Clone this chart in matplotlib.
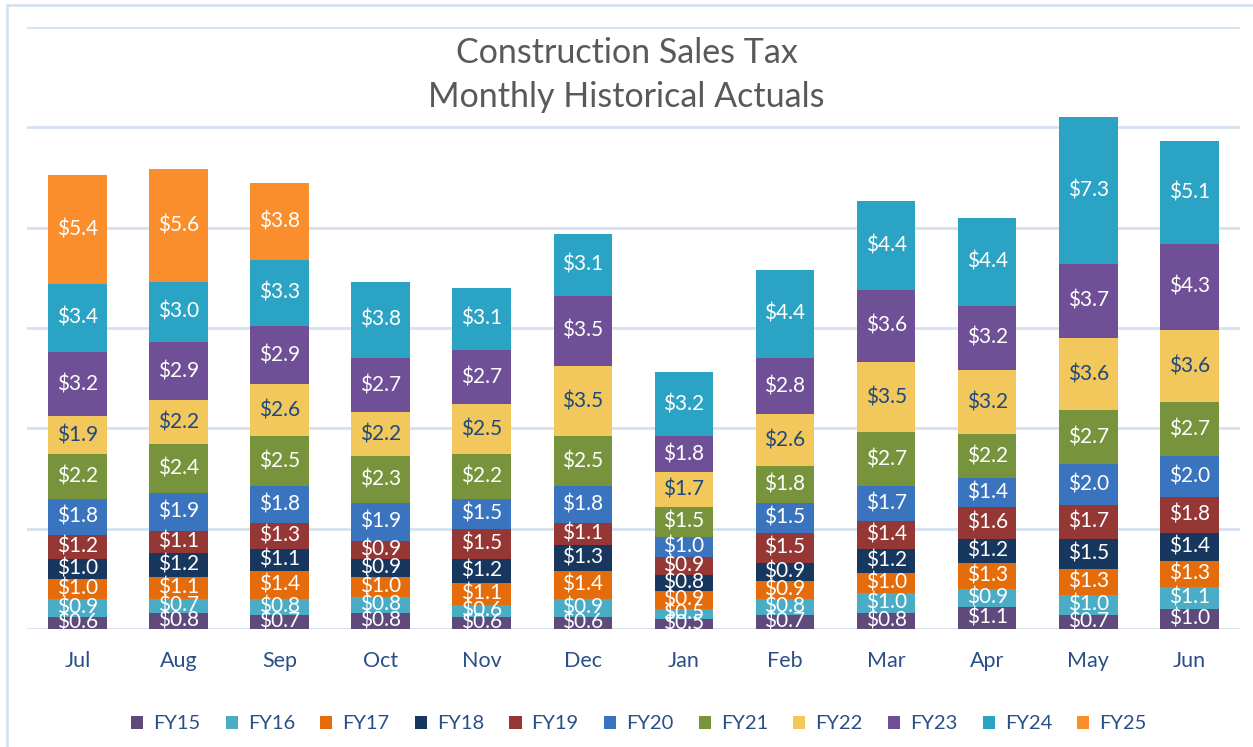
import numpy as np
import matplotlib.pyplot as plt
from matplotlib.patches import Rectangle

plt.rcParams['font.family'] = ['Lato', 'DejaVu Sans']

# Meses y años fiscales
months = ['Jul', 'Aug', 'Sep', 'Oct', 'Nov', 'Dec', 'Jan', 'Feb', 'Mar', 'Apr', 'May', 'Jun']
years = ['FY15', 'FY16', 'FY17', 'FY18', 'FY19', 'FY20', 'FY21', 'FY22', 'FY23', 'FY24', 'FY25']

# Valores por año fiscal (millones $), en orden de meses
fy15 = [0.6, 0.8, 0.7, 0.8, 0.6, 0.6, 0.5, 0.7, 0.8, 1.1, 0.7, 1.0]
fy16 = [0.9, 0.7, 0.8, 0.8, 0.6, 0.9, 0.5, 0.8, 1.0, 0.9, 1.0, 1.1]
fy17 = [1.0, 1.1, 1.4, 1.0, 1.1, 1.4, 0.9, 0.9, 1.0, 1.3, 1.3, 1.3]
fy18 = [1.0, 1.2, 1.1, 0.9, 1.2, 1.3, 0.8, 0.9, 1.2, 1.2, 1.5, 1.4]
fy19 = [1.2, 1.1, 1.3, 0.9, 1.5, 1.1, 0.9, 1.5, 1.4, 1.6, 1.7, 1.8]
fy20 = [1.8, 1.9, 1.8, 1.9, 1.5, 1.8, 1.0, 1.5, 1.7, 1.4, 2.0, 2.0]
fy21 = [2.2, 2.4, 2.5, 2.3, 2.2, 2.5, 1.5, 1.8, 2.7, 2.2, 2.7, 2.7]
fy22 = [1.9, 2.2, 2.6, 2.2, 2.5, 3.5, 1.7, 2.6, 3.5, 3.2, 3.6, 3.6]
fy23 = [3.2, 2.9, 2.9, 2.7, 2.7, 3.5, 1.8, 2.8, 3.6, 3.2, 3.7, 4.3]
fy24 = [3.4, 3.0, 3.3, 3.8, 3.1, 3.1, 3.2, 4.4, 4.4, 4.4, 7.3, 5.1]
fy25 = [5.4, 5.6, 3.8, 0, 0, 0, 0, 0, 0, 0, 0, 0]

series = [fy15, fy16, fy17, fy18, fy19, fy20, fy21, fy22, fy23, fy24, fy25]
colors = ['#604A7B', '#4BACC6', '#E46C0A', '#17375E', '#953735', '#3A73BE',
          '#77933C', '#F2C75C', '#6F4F96', '#2BA3C4', '#FA8E2C']
label_colors = ['white'] * 7 + ['#1F497D'] + ['white'] * 3

fig = plt.figure(figsize=(12.53, 7.47), dpi=100)
ax = fig.add_axes([0.0215, 0.158, 0.968, 0.806])

x = np.arange(len(months))
bottom = np.zeros(len(months))
for vals, c, lc, name in zip(series, colors, label_colors, years):
    vals = np.array(vals)
    bars = ax.bar(x, vals, 0.58, bottom=bottom, color=c, label=name, zorder=3)
    for xi, v, b in zip(x, vals, bottom):
        if v > 0:
            ax.text(xi, b + v / 2, f'${v:.1f}', ha='center', va='center',
                    color=lc, fontsize=15, zorder=4)
    bottom += vals

ax.set_xlim(-0.5, len(months) - 0.5)
ax.set_ylim(0, 30)
ax.set_yticks(np.arange(0, 31, 5))
ax.yaxis.grid(True, color='#D6E2F1', linewidth=2)
ax.tick_params(axis='y', left=False, labelleft=False)
ax.set_xticks(x)
ax.set_xticklabels(months, fontsize=15.5, color='#2A4F86')
ax.tick_params(axis='x', length=0, pad=16)
for s in ax.spines.values():
    s.set_visible(False)

fig.text(0.5, 0.929, 'Construction Sales Tax', ha='center', va='center',
         fontsize=24.5, color='#595959')
fig.text(0.5, 0.870, 'Monthly Historical Actuals', ha='center', va='center',
         fontsize=24.5, color='#595959')

leg = fig.legend(loc='center', bbox_to_anchor=(0.51, 0.031), ncol=11, frameon=False,
                 fontsize=14.5, handlelength=0.6, handleheight=0.6, columnspacing=1.25,
                 handletextpad=0.5)
for t in leg.get_texts():
    t.set_color('#2A4F86')

fig.patches.append(Rectangle((0.0056, -0.01), 1.1, 1.003, transform=fig.transFigure,
                             fill=False, edgecolor='#D6E2F1', linewidth=2))

plt.savefig('out.png', dpi=100)
